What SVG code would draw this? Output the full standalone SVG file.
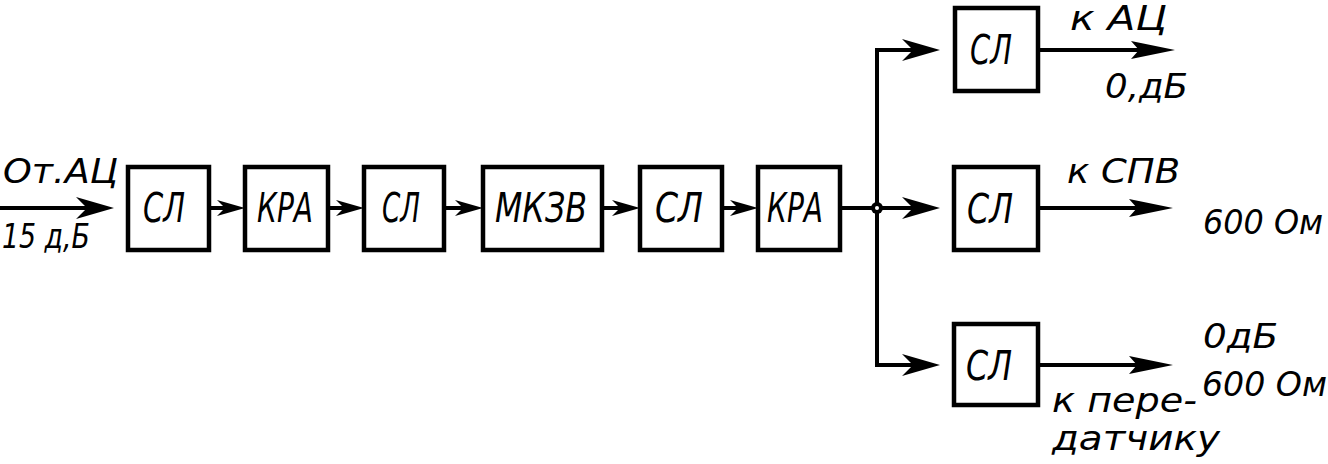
<svg xmlns="http://www.w3.org/2000/svg" width="1328" height="464" viewBox="0 0 1328 464">
<style>
.box{fill:#fff;stroke:#000;stroke-width:4.5}
.ln{fill:none;stroke:#000;stroke-width:4}
.t{font-family:"DejaVu Sans","Liberation Sans",sans-serif;font-style:oblique;fill:#000}
.bt{font-size:40px}
.lt{font-size:33px}
</style>
<defs>
<marker id="aS" markerUnits="userSpaceOnUse" markerWidth="28" markerHeight="18" refX="16" refY="9" orient="auto"><path d="M0,1 L28,9 L0,17 L8,9 z" fill="#000"/></marker>
<marker id="aM" markerUnits="userSpaceOnUse" markerWidth="38" markerHeight="22" refX="26" refY="11" orient="auto"><path d="M0,0 L38,11 L0,22 L11,11 z" fill="#000"/></marker>
<marker id="aO" markerUnits="userSpaceOnUse" markerWidth="44" markerHeight="20" refX="32" refY="10" orient="auto"><path d="M0,1 L44,10 L0,19 L8,10 z" fill="#000"/></marker>
</defs>
<g id="connectors">
<path class="ln" d="M0,208 H102" marker-end="url(#aM)"/>
<path class="ln" d="M209,208 H233" marker-end="url(#aS)"/>
<path class="ln" d="M328,208 H352" marker-end="url(#aS)"/>
<path class="ln" d="M444,208 H471" marker-end="url(#aS)"/>
<path class="ln" d="M602,208 H628" marker-end="url(#aS)"/>
<path class="ln" d="M722,208 H746" marker-end="url(#aS)"/>
<path class="ln" d="M840,208 H877"/>
<path class="ln" d="M877,50 V365"/>
<path class="ln" d="M875,50 H928" marker-end="url(#aM)"/>
<path class="ln" d="M877,208 H928" marker-end="url(#aM)"/>
<path class="ln" d="M875,365 H928" marker-end="url(#aM)"/>
<circle cx="877" cy="208" r="6" fill="#000"/>
<circle cx="877" cy="208" r="2" fill="#fff"/>
<path class="ln" d="M1038,50 H1163" marker-end="url(#aO)"/>
<path class="ln" d="M1038,208 H1161" marker-end="url(#aO)"/>
<path class="ln" d="M1038,365 H1161" marker-end="url(#aO)"/>
</g>
<g id="n1"><rect class="box" x="128" y="167" width="81" height="83"/><text class="t bt" x="143" y="222" textLength="42" lengthAdjust="spacingAndGlyphs">СЛ</text></g>
<g id="n2"><rect class="box" x="245" y="167" width="83" height="83"/><text class="t bt" x="257" y="222" textLength="56" lengthAdjust="spacingAndGlyphs">КРА</text></g>
<g id="n3"><rect class="box" x="364" y="167" width="80" height="83"/><text class="t bt" x="382" y="222" textLength="38" lengthAdjust="spacingAndGlyphs">СЛ</text></g>
<g id="n4"><rect class="box" x="483" y="167" width="119" height="83"/><text class="t bt" x="495" y="222" textLength="92" lengthAdjust="spacingAndGlyphs">МКЗВ</text></g>
<g id="n5"><rect class="box" x="640" y="167" width="82" height="83"/><text class="t bt" x="655" y="222" textLength="48" lengthAdjust="spacingAndGlyphs">СЛ</text></g>
<g id="n6"><rect class="box" x="758" y="167" width="82" height="83"/><text class="t bt" x="767" y="222" textLength="56" lengthAdjust="spacingAndGlyphs">КРА</text></g>
<g id="n7"><rect class="box" x="955" y="8" width="83" height="83"/><text class="t bt" x="970" y="64" textLength="42" lengthAdjust="spacingAndGlyphs">СЛ</text></g>
<g id="n8"><rect class="box" x="954" y="167" width="84" height="83"/><text class="t bt" x="967" y="223" textLength="46" lengthAdjust="spacingAndGlyphs">СЛ</text></g>
<g id="n9"><rect class="box" x="954" y="324" width="84" height="81"/><text class="t bt" x="966" y="380" textLength="46" lengthAdjust="spacingAndGlyphs">СЛ</text></g>
<g id="labels">
<text class="t lt" x="3" y="183" textLength="115" lengthAdjust="spacingAndGlyphs">От.АЦ</text>
<text class="t lt" x="2" y="248" textLength="88" lengthAdjust="spacingAndGlyphs">15 д,Б</text>
<text class="t lt" x="1070" y="30" font-size="30" textLength="97" lengthAdjust="spacingAndGlyphs">к АЦ</text>
<text class="t lt" x="1105" y="98" textLength="83" lengthAdjust="spacingAndGlyphs">0,дБ</text>
<text class="t lt" x="1067" y="183" textLength="113" lengthAdjust="spacingAndGlyphs">к СПВ</text>
<text class="t lt" x="1203" y="234" textLength="120" lengthAdjust="spacingAndGlyphs">600 Ом</text>
<text class="t lt" x="1203" y="348" textLength="75" lengthAdjust="spacingAndGlyphs">0дБ</text>
<text class="t lt" x="1202" y="396" textLength="125" lengthAdjust="spacingAndGlyphs">600 Ом</text>
<text class="t lt" x="1052" y="412" font-size="30" textLength="145" lengthAdjust="spacingAndGlyphs">к пере-</text>
<text class="t lt" x="1052" y="450" font-size="30" textLength="168" lengthAdjust="spacingAndGlyphs">датчику</text>
</g>
</svg>
